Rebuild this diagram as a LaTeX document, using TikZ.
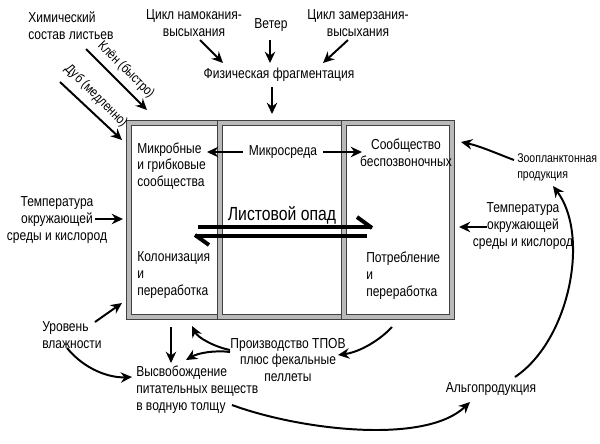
\documentclass[tikz,border=0pt]{standalone}
\usepackage{fontspec}
\setmainfont{Liberation Sans}[FakeStretch=0.83]
\usetikzlibrary{arrows.meta}
\usetikzlibrary{calc}

\tikzset{
  lbl/.style={font=\fontsize{10.3}{12}\selectfont,inner sep=0pt,align=center},
  slant/.style={lbl,font=\fontsize{9.6}{12}\selectfont,rotate=-45},
  arr/.style={line width=1.4pt,-{Stealth[length=2.8mm,width=2.6mm]}},
  cell/.style={draw=black!75,double=gray!55,double distance=2.6pt,line width=0.5pt},
  flow/.style={line width=2.8pt}
}

\begin{document}
\begin{tikzpicture}[x=0.025cm,y=-0.025cm]
	\useasboundingbox (0,0) rectangle (600,443);
	
	% three cells of the leaf pack
	\draw[cell] (129,123) rectangle (220,317);
	\draw[cell] (220,123) rectangle (344,317);
	\draw[cell] (344,123) rectangle (452,317);
	
	\coordinate (mapleTip) at (147,110);
	\coordinate (oakTip) at (122,140);
	\coordinate (fragTip) at (272,114);
	\coordinate (tempLTip) at (123,219);
	\coordinate (tempRTip) at (459,227);
	\coordinate (zooTip) at (461,142);
	\coordinate (humidTip) at (122,303);
	\coordinate (dropStart) at (171,327);
	\coordinate (prodTip) at (192,326);
	\coordinate (consOut) at (392,327);
	
	% labels
	\node[lbl,anchor=west,align=left] (chem) at (28,26) {Химический\\состав листьев};
	\node[slant] (maple) at (126,70) {Клён (быстро)};
	\node[slant] (oak) at (96,96) {Дуб (медленно)};
	\node[lbl] (wet) at (194,23) {Цикл намокания-\\высыхания};
	\node[lbl] (wind) at (271,25) {Ветер};
	\node[lbl] (freeze) at (358,23) {Цикл замерзания-\\высыхания};
	\node[lbl] (frag) at (279,75) {Физическая фрагментация};
	
	\node[lbl,anchor=west,align=left] (micro) at (137,166) {Микробные\\и грибковые\\сообщества};
	\node[lbl] (env) at (283,152) {Микросреда};
	\node[lbl] (inv) at (406,153) {Сообщество\\беспозвоночных};
	\node[lbl,font=\fontsize{13.5}{16}\selectfont] (litter) at (282,215) {Листовой опад};
	\node[lbl,anchor=west,align=left] (colon) at (137,275) {Колонизация\\и\\переработка};
	\node[lbl,anchor=west,align=left] (cons) at (366,276) {Потребление\\и\\переработка};
	
	\node[lbl] (tempL) at (57,220) {Температура\\окружающей\\среды и кислород};
	\node[lbl] (tempR) at (523,226) {Температура\\окружающей\\среды и кислород};
	\node[lbl,font=\fontsize{9}{11.4}\selectfont,anchor=west,align=left] (zoo) at (517,167) {Зоопланктонная\\продукция};
	\node[lbl,anchor=west,align=left] (humid) at (42,335) {Уровень\\влажности};
	\node[lbl,anchor=west,align=left] (release) at (136,390) {Высвобождение\\питательных веществ\\в водную толщу};
	\node[lbl] (prod) at (288,360) {Производство ТПОВ\\плюс фекальные\\пеллеты};
	\node[lbl] (algae) at (491,389) {Альгопродукция};
	
	% leaf litter in and out
	\draw[flow] (198,227) -- (372,227);
	\draw[flow] (372,228) -- (357,217);
	\draw[flow] (367,236) -- (195,236);
	\draw[flow] (195,235) -- (209,245);
	
	% straight arrows
	\draw[arr] ($(chem.west)+(58,23)$) -- (mapleTip);
	\draw[arr] ($(chem.west)+(32,56)$) -- (oakTip);
	\draw[arr] ($(wet)+(6,17)$) -- ($(frag)+(-56,-12)$);
	\draw[arr] ($(wind)+(-1,15)$) -- ($(frag)+(-9,-12)$);
	\draw[arr] ($(freeze)+(-10,17)$) -- ($(frag)+(44,-12)$);
	\draw[arr] ($(frag)+(-7,12)$) -- (fragTip);
	\draw[arr] ($(env)+(-40,0)$) -- ($(micro.west)+(70,-14)$);
	\draw[arr] ($(env)+(40,0)$) -- ($(inv)+(-44,-1)$);
	\draw[arr] ($(tempL)+(38,-1)$) -- (tempLTip);
	\draw[arr] ($(tempR)+(-36,1)$) -- (tempRTip);
	\draw[arr] ($(humid.west)+(53,-13)$) -- (humidTip);
	\draw[arr] (dropStart) -- ($(release.west)+(35,-27)$);
	
	% curved arrows
	\draw[arr] ($(zoo.west)+(-3,-7)$) .. controls (498,154) and (480,146) .. (zooTip);
	\draw[arr] ($(algae)+(24,-12)$) .. controls (570,340) and (590,235) .. ($(zoo.west)+(36,19)$);
	\draw[arr] ($(release.west)+(96,15)$) .. controls (300,430) and (425,445) .. ($(algae)+(-21,13)$);
	\draw[arr] ($(humid.west)+(25,13)$) .. controls (85,370) and (110,378) .. ($(release.west)+(-4,-13)$);
	\draw[arr] ($(prod)+(-58,-10)$) .. controls (215,347) and (198,338) .. (prodTip);
	\draw[arr] ($(prod)+(-58,-8)$) .. controls (215,350) and (198,353) .. ($(release.west)+(50,-30)$);
	\draw[arr] (consOut) .. controls (380,340) and (360,352) .. ($(prod)+(50,-5)$);
\end{tikzpicture}
\end{document}
